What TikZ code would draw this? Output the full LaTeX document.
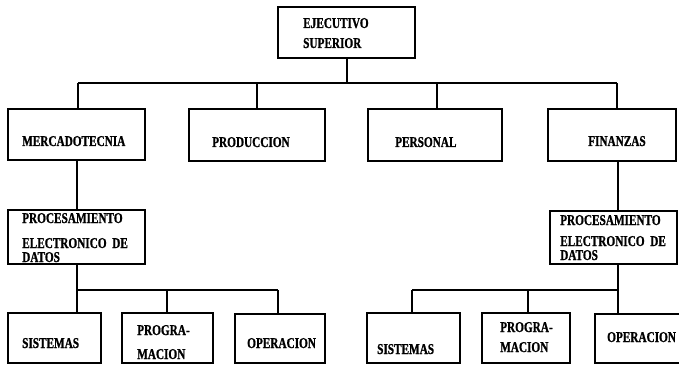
\documentclass[tikz,border=0pt]{standalone}
\usepackage{fontspec}
\newfontfamily\orgfont[FakeStretch=0.75,FakeBold=1]{Liberation Serif}
\begin{document}
\begin{tikzpicture}[x=1pt,y=-1pt,
  box/.style={draw,line width=2pt,rectangle,inner sep=0pt},
  lbl/.style={anchor=base west,inner sep=0pt,font=\orgfont\bfseries\fontsize{15}{15}\selectfont},
  con/.style={line width=2pt}]
\useasboundingbox (0,0) rectangle (679,366);
\clip (0,0) rectangle (679,366);
% boxes
\node[box,minimum width=137pt,minimum height=51pt] (exec) at (346.5,32.5) {};
\node[box,minimum width=137pt,minimum height=51pt] (merc) at (76.5,134.5) {};
\node[box,minimum width=136pt,minimum height=52pt] (prod) at (257,135) {};
\node[box,minimum width=134pt,minimum height=52pt] (pers) at (435,135) {};
\node[box,minimum width=128pt,minimum height=52pt] (fin) at (612,135) {};
\node[box,minimum width=137pt,minimum height=54pt] (procL) at (76.5,237) {};
\node[box,minimum width=127pt,minimum height=53pt] (procR) at (613.5,237.5) {};
\node[box,minimum width=93pt,minimum height=50pt] (sisL) at (54.5,338) {};
\node[box,minimum width=91pt,minimum height=50pt] (progL) at (167.5,338) {};
\node[box,minimum width=90pt,minimum height=49pt] (operL) at (280,338.5) {};
\node[box,minimum width=93pt,minimum height=50pt] (sisR) at (413.5,338) {};
\node[box,minimum width=88pt,minimum height=50pt] (progR) at (526,338) {};
\node[box,minimum width=95pt,minimum height=49pt] (operR) at (642.5,338.5) {};
% texts
\node[lbl] (t1) at (303,28) {EJECUTIVO};
\node[lbl] (t2) at (303,48) {SUPERIOR};
\node[lbl] (t3) at (22,146) {MERCADOTECNIA};
\node[lbl] (t4) at (212,147) {PRODUCCION};
\node[lbl] (t5) at (395,147) {PERSONAL};
\node[lbl] (t6) at (588,146) {FINANZAS};
\node[lbl] (t7) at (22,223) {PROCESAMIENTO};
\node[lbl] (t8) at (22,248) {ELECTRONICO\ \ DE};
\node[lbl] (t9) at (22,262) {DATOS};
\node[lbl] (t10) at (560,225) {PROCESAMIENTO};
\node[lbl] (t11) at (560,246) {ELECTRONICO\ \ DE};
\node[lbl] (t12) at (560,260) {DATOS};
\node[lbl] (t13) at (22,348) {SISTEMAS};
\node[lbl] (t14) at (137,335) {PROGRA-};
\node[lbl] (t15) at (137,359) {MACION};
\node[lbl] (t16) at (247,348) {OPERACION};
\node[lbl] (t17) at (377,354) {SISTEMAS};
\node[lbl] (t18) at (500,332) {PROGRA-};
\node[lbl] (t19) at (500,352) {MACION};
\node[lbl] (t20) at (607,342) {OPERACION};
% bus coordinates
\coordinate (b0) at (346.5,83);
\coordinate (b1) at (78,83);
\coordinate (b2) at (257,83);
\coordinate (b3) at (437,83);
\coordinate (b4) at (617,83);
\coordinate (cL) at (77,0);
\coordinate (cR) at (618,0);
\coordinate (lb1) at (77,290);
\coordinate (lb2) at (167,290);
\coordinate (lb3) at (278,290);
\coordinate (rb1) at (412,290);
\coordinate (rb2) at (528,290);
\coordinate (rb3) at (618,290);
% connectors
\draw[con] (exec.south) -- (b0);
\draw[con] (b1) -- (b4);
\draw[con] (b1) -- (b1 |- merc.north);
\draw[con] (b2) -- (b2 |- prod.north);
\draw[con] (b3) -- (b3 |- pers.north);
\draw[con] (b4) -- (b4 |- fin.north);
\draw[con] (merc.south -| cL) -- (procL.north -| cL);
\draw[con] (fin.south -| cR) -- (procR.north -| cR);
\draw[con] (procL.south -| lb1) -- (lb1) -- (lb3);
\draw[con] (lb1) -- (lb1 |- sisL.north);
\draw[con] (lb2) -- (lb2 |- progL.north);
\draw[con] (lb3) -- (lb3 |- operL.north);
\draw[con] (procR.south -| rb3) -- (rb3) -- (rb1);
\draw[con] (rb1) -- (rb1 |- sisR.north);
\draw[con] (rb2) -- (rb2 |- progR.north);
\draw[con] (rb3) -- (rb3 |- operR.north);
\end{tikzpicture}
\end{document}
